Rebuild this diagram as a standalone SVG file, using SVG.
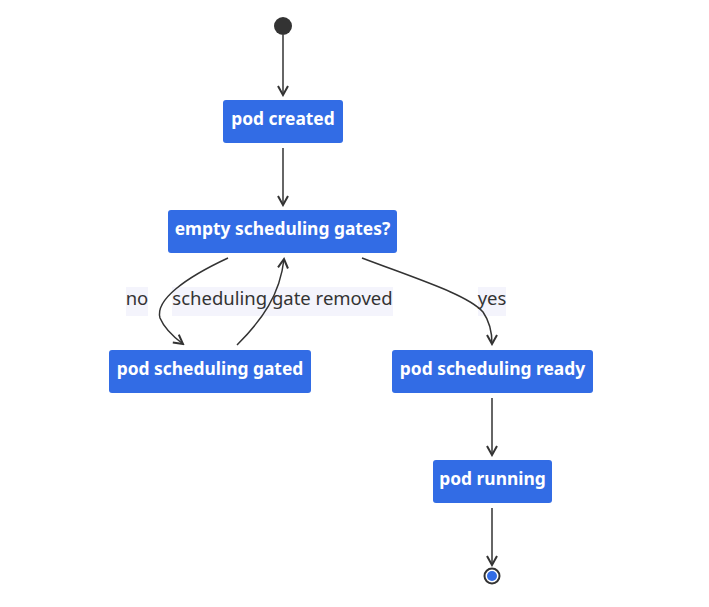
<svg xmlns="http://www.w3.org/2000/svg" width="709" height="607" viewBox="0 0 709 607">
<style>
.node rect{fill:#326ce5;stroke:none}
.node text{fill:#fff;font-family:"Noto Sans","DejaVu Sans",sans-serif;font-weight:bold;font-size:17.4px;text-anchor:middle}
.edge{fill:none;stroke:#333;stroke-width:1.5}
.lbl rect{fill:#f4f4fc}
.lbl text{fill:#333;font-family:"Noto Sans","DejaVu Sans",sans-serif;font-size:18.5px;text-anchor:middle}
</style>
<defs>
<marker id="arr" viewBox="0 0 12 12" refX="10" refY="6" markerWidth="12" markerHeight="12" markerUnits="userSpaceOnUse" orient="auto">
<path d="M1,1 L10,6 L1,11" fill="none" stroke="#333" stroke-width="2"/>
</marker>
</defs>
<rect width="709" height="607" fill="#fff"/>
<g id="labels">
<g class="lbl"><rect x="126" y="287" width="22" height="29"/><text x="137" y="305">no</text></g>
<g class="lbl"><rect x="172" y="287" width="221" height="29"/><text x="282.5" y="305">scheduling gate removed</text></g>
<g class="lbl"><rect x="478" y="287" width="28" height="29"/><text x="492" y="305">yes</text></g>
</g>
<g id="edges">
<path class="edge" d="M283,35 L283,95" marker-end="url(#arr)"/>
<path class="edge" d="M283,148 L283,205" marker-end="url(#arr)"/>
<path class="edge" d="M228,258 C185,278 155,300 160,318 C165,330 175,338 183,344" marker-end="url(#arr)"/>
<path class="edge" d="M237,345 C262,320 280,295 284,259" marker-end="url(#arr)"/>
<path class="edge" d="M362,258 C420,280 468,295 483,312 C490,322 492,332 492,344" marker-end="url(#arr)"/>
<path class="edge" d="M492,398 L492,455" marker-end="url(#arr)"/>
<path class="edge" d="M492,508 L492,565" marker-end="url(#arr)"/>
</g>
<g id="start"><circle cx="283" cy="26" r="9" fill="#333"/></g>
<g id="pod-created" class="node"><rect x="223" y="100" width="120" height="43" rx="3"/><text x="283" y="125">pod created</text></g>
<g id="empty-gates" class="node"><rect x="168" y="210" width="229" height="43" rx="3"/><text x="282.5" y="235">empty scheduling gates?</text></g>
<g id="gated" class="node"><rect x="109" y="350" width="202" height="43" rx="3"/><text x="210" y="375">pod scheduling gated</text></g>
<g id="ready" class="node"><rect x="392" y="350" width="201" height="43" rx="3"/><text x="492.5" y="375">pod scheduling ready</text></g>
<g id="running" class="node"><rect x="433" y="460" width="119" height="43" rx="3"/><text x="492.5" y="485">pod running</text></g>
<g id="end"><circle cx="492" cy="576" r="7.5" fill="#fff" stroke="#333" stroke-width="2"/><circle cx="492" cy="576" r="5" fill="#326ce5"/></g>
</svg>
